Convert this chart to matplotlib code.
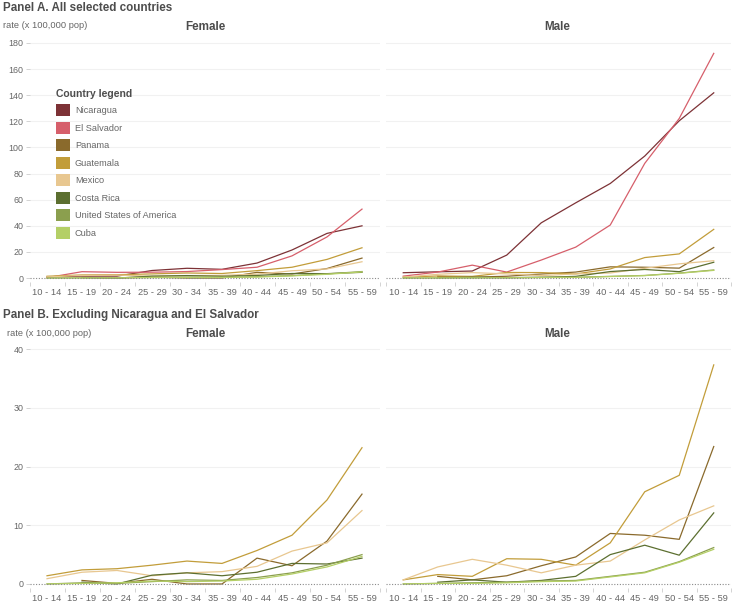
import numpy as np
import matplotlib
matplotlib.use("Agg")
import matplotlib.pyplot as plt
from matplotlib.patches import Patch

plt.rcParams['font.family'] = ['Liberation Sans', 'DejaVu Sans']

nan = np.nan

# Age groups on the x axis
age_groups = ["10 - 14", "15 - 19", "20 - 24", "25 - 29", "30 - 34",
              "35 - 39", "40 - 44", "45 - 49", "50 - 54", "55 - 59"]

countries = ["Nicaragua", "El Salvador", "Panama", "Guatemala", "Mexico",
             "Costa Rica", "United States of America", "Cuba"]
colors = ["#7d3236", "#d65f6b", "#8a6a2c", "#c29d3a", "#e8c790",
          "#5c6f30", "#8b9f4e", "#b4cf66"]

# rates per 100,000 pop, female
nicaragua_f = [0.8, 1.5, 1.5, 5.8, 7.5, 6.7, 11.5, 21.5, 34.2, 40.0]
el_salvador_f = [0.3, 4.9, 4.4, 4.5, 5.0, 6.5, 8.3, 17.0, 31.5, 52.8]
panama_f = [nan, 0.6, 0.1, 0.8, 0.0, 0.0, 4.4, 3.1, 7.3, 15.3]
guatemala_f = [1.4, 2.4, 2.6, 3.2, 3.9, 3.5, 5.7, 8.3, 14.3, 23.2]
mexico_f = [0.9, 2.0, 2.3, 1.4, 1.9, 2.1, 3.0, 5.6, 7.0, 12.5]
costa_rica_f = [nan, 0.3, 0.0, 1.5, 1.9, 1.4, 2.0, 3.5, 3.4, 4.4]
usa_f = [0.0, 0.2, 0.1, 0.4, 0.7, 0.6, 1.1, 1.9, 3.2, 5.0]
cuba_f = [0.0, 0.1, 0.2, 0.5, 0.4, 0.5, 0.8, 1.7, 2.9, 4.7]

# rates per 100,000 pop, male
nicaragua_m = [4.1, 4.8, 5.4, 17.6, 42.3, 57.6, 72.4, 93.4, 120.4, 141.8]
el_salvador_m = [1.5, 4.6, 9.9, 4.6, 13.8, 23.7, 40.6, 87.8, 122.2, 172.0]
panama_m = [nan, 1.3, 0.7, 1.4, 3.1, 4.6, 8.6, 8.3, 7.6, 23.4]
guatemala_m = [0.7, 1.6, 1.3, 4.3, 4.2, 3.2, 7.0, 15.7, 18.5, 37.3]
mexico_m = [0.7, 2.9, 4.2, 3.2, 1.9, 3.2, 3.9, 7.5, 10.9, 13.3]
costa_rica_m = [nan, 0.3, 0.7, 0.3, 0.6, 1.3, 5.0, 6.6, 4.9, 12.1]
usa_m = [0.0, 0.1, 0.2, 0.3, 0.5, 0.6, 1.3, 2.0, 3.8, 6.2]
cuba_m = [0.0, 0.1, 0.1, 0.2, 0.4, 0.5, 1.2, 1.9, 3.7, 5.9]

female = [nicaragua_f, el_salvador_f, panama_f, guatemala_f, mexico_f,
          costa_rica_f, usa_f, cuba_f]
male = [nicaragua_m, el_salvador_m, panama_m, guatemala_m, mexico_m,
        costa_rica_m, usa_m, cuba_m]

W, H = 736, 605
fig = plt.figure(figsize=(W / 100, H / 100), dpi=100)


def box(x0, x1, y_top, y_bot):
    return [x0 / W, 1 - y_bot / H, (x1 - x0) / W, (y_bot - y_top) / H]


def px(x, y):
    return x / W, 1 - y / H


TXT = "#4d4d4d"
TICK = "#666666"
x = np.arange(len(age_groups))


def style(ax, ymax, step, pad):
    ax.set_xlim(-0.5, len(age_groups) - 0.5)
    ax.set_ylim(-pad, ymax + pad)
    for s in ax.spines.values():
        s.set_visible(False)
    ax.set_yticks(np.arange(0, ymax + 1, step))
    ax.set_xticks(x)
    ax.set_xticklabels(age_groups)
    ax.set_xticks(np.arange(-0.5, len(age_groups)), minor=True)
    ax.tick_params(axis="x", which="major", length=0, pad=4.5,
                   labelsize=6.7, labelcolor=TICK)
    ax.tick_params(axis="x", which="minor", length=3, width=0.6,
                   color="#cccccc")
    ax.tick_params(axis="y", length=3, width=0.6, color="#cccccc",
                   labelsize=6.4, labelcolor=TICK, pad=1.5)
    for yv in np.arange(step, ymax + 1, step):
        ax.axhline(yv, color="#f1f1f1", lw=0.8, zorder=0)
    ax.axhline(0, color="#8a8a8a", lw=0.8, ls=(0, (1, 1.5)), zorder=5)


panels = [
    # (top, bottom, ymax, step, pad, series to show)
    (39.0, 282.0, 180, 20, 3.0, range(8)),
    (345.5, 587.5, 40, 10, 0.6, range(2, 8)),
]

axes = []
for top, bot, ymax, step, pad, show in panels:
    axf = fig.add_axes(box(29.5, 379.5, top, bot))
    axm = fig.add_axes(box(386, 731, top, bot))
    for ax, data in ((axf, female), (axm, male)):
        style(ax, ymax, step, pad)
        for i in show:
            ax.plot(x, data[i], color=colors[i], lw=0.9, zorder=3)
    axm.set_yticklabels([])
    axm.tick_params(axis="y", length=0)
    axes.append((axf, axm))

# Legend in panel A, female
handles = [Patch(facecolor=c, edgecolor="none", label=n)
           for c, n in zip(colors, countries)]
leg = axes[0][0].legend(handles=handles, title="Country legend",
                        loc="upper left", bbox_to_anchor=(0.077, 0.795),
                        frameon=False, fontsize=6.6, borderpad=0,
                        borderaxespad=0, handlelength=1.45,
                        handleheight=1.6, labelspacing=0.62,
                        handletextpad=0.55, alignment="left",
                        title_fontproperties={"weight": "bold", "size": 7.5})
leg.get_title().set_color(TXT)
for t in leg.get_texts():
    t.set_color(TICK)

# Panel titles and labels
fig.text(*px(3, 8), "Panel A. All selected countries", fontsize=8.4,
         fontweight="bold", color=TXT, va="center", ha="left")
fig.text(*px(3, 25), "rate (x 100,000 pop)", fontsize=6.7, color=TICK,
         va="center", ha="left")
fig.text(*px(205, 27), "Female", fontsize=8.4, fontweight="bold",
         color=TXT, va="center", ha="center")
fig.text(*px(557, 27), "Male", fontsize=8.4, fontweight="bold",
         color=TXT, va="center", ha="center")

fig.text(*px(3, 315), "Panel B. Excluding Nicaragua and El Salvador",
         fontsize=8.4, fontweight="bold", color=TXT, va="center", ha="left")
fig.text(*px(7, 333), "rate (x 100,000 pop)", fontsize=6.7, color=TICK,
         va="center", ha="left")
fig.text(*px(205, 334), "Female", fontsize=8.4, fontweight="bold",
         color=TXT, va="center", ha="center")
fig.text(*px(557, 334), "Male", fontsize=8.4, fontweight="bold",
         color=TXT, va="center", ha="center")

fig.savefig("out.png", dpi=100, facecolor="white")
